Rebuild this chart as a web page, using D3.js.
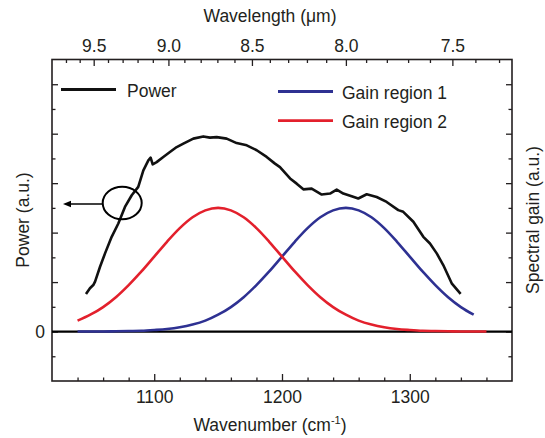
<!DOCTYPE html>
<html><head><meta charset="utf-8">
<script src="https://cdn.jsdelivr.net/npm/d3@7"></script>
<style>
body{margin:0;background:#fff}
text{font-family:"Liberation Sans",Arial,Helvetica,sans-serif;fill:#231f20}
</style>
</head><body>
<svg id="chart" width="545" height="438"></svg>
<script>
// ---- data ----
const powerWn = [1046.6,1049.7,1052.3,1053.7,1057.6,1061.5,1066.7,1071.9,1077.1,1082.4,1087.5,1091.5,1095.4,1097.2,1098.8,1101.9,1107.1,1112.3,1117.6,1122.8,1130.6,1138.4,1143.6,1148.9,1156.7,1164.5,1172.4,1180.2,1188.0,1194.5,1198.4,1206.3,1211.5,1216.7,1223.2,1231.1,1237.6,1242.8,1248.0,1254.5,1259.7,1266.3,1274.1,1281.9,1291.0,1294.9,1302.8,1310.6,1315.8,1321.1,1326.2,1332.8,1339.8];
const powerVal = [1.52,1.75,1.88,2.02,2.62,3.16,3.83,4.37,5.04,5.51,5.85,6.52,6.92,7.03,6.76,6.85,7.06,7.26,7.46,7.60,7.80,7.89,7.84,7.86,7.80,7.62,7.53,7.33,7.06,6.79,6.65,6.19,5.98,5.75,5.78,5.54,5.58,5.74,5.58,5.47,5.38,5.55,5.44,5.24,4.91,4.84,4.44,3.83,3.56,3.16,2.69,1.95,1.52];

const gain1Wn = [1040,1050,1060,1070,1080,1090,1100,1110,1120,1130,1140,1150,1160,1170,1180,1190,1200,1210,1220,1230,1240,1250,1260,1270,1280,1290,1300,1310,1320,1330,1340,1350];
const gain1Val = [0.00,0.00,0.00,0.01,0.02,0.03,0.06,0.10,0.17,0.28,0.44,0.68,0.99,1.39,1.88,2.43,3.03,3.63,4.18,4.62,4.90,5.00,4.90,4.62,4.18,3.63,3.03,2.43,1.88,1.39,0.99,0.68];

const gain2Wn = [1040,1050,1060,1070,1080,1090,1100,1110,1120,1130,1140,1150,1160,1170,1180,1190,1200,1210,1220,1230,1240,1250,1260,1270,1280,1290,1300,1310,1320,1330,1340,1350,1360];
const gain2Val = [0.44,0.68,0.99,1.39,1.88,2.43,3.03,3.63,4.18,4.62,4.90,5.00,4.90,4.62,4.18,3.63,3.03,2.43,1.88,1.39,0.99,0.68,0.44,0.28,0.17,0.10,0.06,0.03,0.02,0.01,0.00,0.00,0.00];

const wnMajor = [1100,1200,1300];
const wnMinor = [1040,1060,1080,1120,1140,1160,1180,1220,1240,1260,1280,1320,1340,1360];
const wlMajor = [9.5,9.0,8.5,8.0,7.5];
const wlLabels = ["9.5","9.0","8.5","8.0","7.5"];
const wlMinor = [9.7,9.6,9.4,9.3,9.2,9.1,8.9,8.8,8.7,8.6,8.4,8.3,8.2,8.1,7.9,7.8,7.7,7.6,7.4,7.3];
const yMajor = [0,2,4,6,8,10];
const yMinor = [-1,1,3,5,7,9];
const yLabels = ["0"];

const seriesNames = ["Power","Gain region 1","Gain region 2"];
const colors = {power:"#111111", g1:"#2e3192", g2:"#e3202c"};

// ---- layout ----
const svg = d3.select("#chart");
const L = 52, R = 512, T = 59.5, B = 381;
const x = d3.scaleLinear().domain([1020,1380]).range([L,R]);
const y = d3.scaleLinear().domain([-2,11]).range([B,T]);
const fs = "17.5px";

function styleAxis(g){
  g.select(".domain").remove();
  g.selectAll("line").attr("stroke","#231f20").attr("stroke-width",1.3);
  g.selectAll("text").style("font-size",fs).attr("fill","#231f20");
}

// bottom
svg.append("g").attr("transform",`translate(0,${B})`)
  .call(d3.axisBottom(x).tickValues(wnMajor).tickSize(-7).tickPadding(10).tickFormat(d3.format("d"))).call(styleAxis);
svg.append("g").attr("transform",`translate(0,${B})`)
  .call(d3.axisBottom(x).tickValues(wnMinor).tickSize(-3.5).tickFormat("")).call(styleAxis);
// top (wavelength)
svg.append("g").attr("transform",`translate(0,${T})`)
  .call(d3.axisTop(x).tickValues(wlMajor.map(w=>1e4/w)).tickSize(-6.5).tickPadding(8).tickFormat((d,i)=>wlLabels[i])).call(styleAxis);
svg.append("g").attr("transform",`translate(0,${T})`)
  .call(d3.axisTop(x).tickValues(wlMinor.map(w=>1e4/w)).tickSize(-3.5).tickFormat("")).call(styleAxis);
// left
svg.append("g").attr("transform",`translate(${L},0)`)
  .call(d3.axisLeft(y).tickValues(yMajor).tickSize(-6).tickPadding(7).tickFormat(d=>d===0?yLabels[0]:"")).call(styleAxis);
svg.append("g").attr("transform",`translate(${L},0)`)
  .call(d3.axisLeft(y).tickValues(yMinor).tickSize(-3.5).tickFormat("")).call(styleAxis);
// right
svg.append("g").attr("transform",`translate(${R},0)`)
  .call(d3.axisRight(y).tickValues(yMajor).tickSize(-6).tickFormat("")).call(styleAxis);
svg.append("g").attr("transform",`translate(${R},0)`)
  .call(d3.axisRight(y).tickValues(yMinor).tickSize(-3.5).tickFormat("")).call(styleAxis);

// frame
svg.append("rect").attr("x",L).attr("y",T).attr("width",R-L).attr("height",B-T)
  .attr("fill","none").attr("stroke","#231f20").attr("stroke-width",1.6);

// zero line
svg.append("line").attr("x1",L).attr("x2",R).attr("y1",y(0)).attr("y2",y(0))
  .attr("stroke","#000").attr("stroke-width",2.3);

// curves
const smooth = d3.line().x(d=>x(d[0])).y(d=>y(d[1])).curve(d3.curveMonotoneX);
const lin = d3.line().x(d=>x(d[0])).y(d=>y(d[1]));
svg.append("path").datum(gain1Wn.map((w,i)=>[w,gain1Val[i]])).attr("d",smooth)
  .attr("fill","none").attr("stroke",colors.g1).attr("stroke-width",2.6);
svg.append("path").datum(gain2Wn.map((w,i)=>[w,gain2Val[i]])).attr("d",smooth)
  .attr("fill","none").attr("stroke",colors.g2).attr("stroke-width",2.6);
svg.append("path").datum(powerWn.map((w,i)=>[w,powerVal[i]])).attr("d",lin)
  .attr("fill","none").attr("stroke",colors.power).attr("stroke-width",2.6).attr("stroke-linejoin","round");

// annotation: ellipse + arrow
svg.append("ellipse").attr("cx",122.2).attr("cy",203).attr("rx",19.5).attr("ry",16.3)
  .attr("fill","none").attr("stroke","#000").attr("stroke-width",2);
svg.append("line").attr("x1",102.7).attr("x2",69).attr("y1",204).attr("y2",204)
  .attr("stroke","#000").attr("stroke-width",1.6);
svg.append("path").attr("d","M63,204 L71,200.8 L71,207.2 Z").attr("fill","#000");

// legend
const leg = [
  {x1:61,x2:116,y:89.5,c:colors.power,tx:127,ty:97,t:seriesNames[0]},
  {x1:278,x2:333,y:91.5,c:colors.g1,tx:342,ty:99,t:seriesNames[1]},
  {x1:278,x2:333,y:120.7,c:colors.g2,tx:342,ty:128,t:seriesNames[2]}
];
leg.forEach(d=>{
  svg.append("line").attr("x1",d.x1).attr("x2",d.x2).attr("y1",d.y).attr("y2",d.y)
    .attr("stroke",d.c).attr("stroke-width",2.8);
  svg.append("text").attr("x",d.tx).attr("y",d.ty).style("font-size",fs).text(d.t);
});

// axis titles
svg.append("text").attr("x",270).attr("y",22).attr("text-anchor","middle").style("font-size",fs).text("Wavelength (\u03bcm)");
const xt = svg.append("text").attr("x",270).attr("y",431).attr("text-anchor","middle").style("font-size",fs);
xt.append("tspan").text("Wavenumber (cm");
xt.append("tspan").attr("dy",-7).style("font-size","11px").text("-1");
xt.append("tspan").attr("dy",7).text(")");
svg.append("text").attr("transform","translate(29,220) rotate(-90)").attr("text-anchor","middle").style("font-size",fs).text("Power (a.u.)");
svg.append("text").attr("transform","translate(539,220) rotate(-90)").attr("text-anchor","middle").style("font-size",fs).text("Spectral gain (a.u.)");
</script>
</body></html>
